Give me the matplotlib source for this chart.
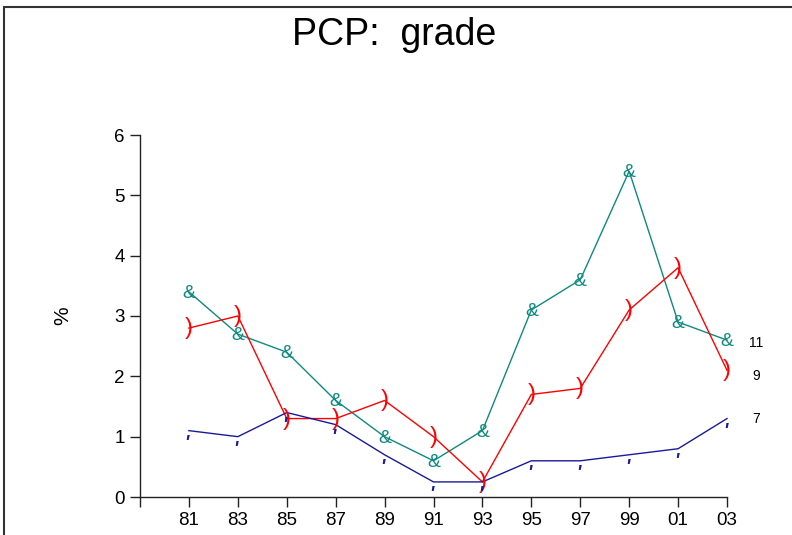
import matplotlib
matplotlib.use("Agg")
import matplotlib.pyplot as plt
from matplotlib.patches import Rectangle

years = ["81", "83", "85", "87", "89", "91", "93", "95", "97", "99", "01", "03"]
grade11 = [3.4, 2.7, 2.4, 1.6, 1.0, 0.6, 1.1, 3.1, 3.6, 5.4, 2.9, 2.6]
grade9 = [2.8, 3.0, 1.3, 1.3, 1.6, 1.0, 0.25, 1.7, 1.8, 3.1, 3.8, 2.1]
grade7 = [1.1, 1.0, 1.4, 1.2, 0.7, 0.25, 0.25, 0.6, 0.6, 0.7, 0.8, 1.3]
series_labels = ["11", "9", "7"]
label_y = [2.55, 2.0, 1.3]

plt.rcParams['font.family'] = ['Liberation Sans', 'DejaVu Sans']

fig = plt.figure(figsize=(7.92, 5.35), dpi=100)
fig.patches.append(Rectangle((4/792, -0.1), 1.2, 1 - 7/535 + 0.1,
                             transform=fig.transFigure, fill=False,
                             edgecolor='#333333', linewidth=1.5))
ax = fig.add_axes([140/792, 1 - 497/535, (727 - 140)/792, (497 - 135)/535])

x = list(range(len(years)))
c11, c9, c7 = '#0e8a80', '#ff0000', '#1a1a99'
ax.plot(x, grade11, color=c11, lw=1.0, clip_on=False)
ax.plot(x, grade9, color=c9, lw=1.0, clip_on=False)
ax.plot(x, grade7, color=c7, lw=1.0, clip_on=False)

for xi, v in zip(x, grade11):
    ax.annotate('&', (xi, v), xytext=(0, -1), textcoords='offset points',
                ha='center', va='center', color=c11, fontsize=14, annotation_clip=False)
for xi, v in zip(x, grade9):
    ax.annotate(')', (xi, v), xytext=(0, 0), textcoords='offset points',
                ha='center', va='center', color=c9, fontsize=17, annotation_clip=False)
for xi, v in zip(x, grade7):
    ax.annotate("'", (xi, v), xytext=(-1.5, -9), textcoords='offset points',
                ha='center', va='center', color=c7, fontsize=13, style='italic',
                fontweight='bold', annotation_clip=False)

for lab, ly in zip(series_labels, label_y):
    ax.text(11.6, ly, lab, ha='center', va='center', fontsize=10, clip_on=False)

ax.set_xlim(-1, 11)
ax.set_ylim(0, 6)
ax.set_xticks([-1] + x)
ax.set_xticklabels([""] + years)
ax.set_yticks(range(7))
ax.spines['top'].set_visible(False)
ax.spines['right'].set_visible(False)
for s in ['left', 'bottom']:
    ax.spines[s].set_linewidth(1.0)
    ax.spines[s].set_color('#222222')
ax.tick_params(axis='both', direction='out', length=7, width=1.0, colors='#222222',
               labelsize=13.5, labelcolor='black')
ax.tick_params(axis='x', pad=4)
ax.tick_params(axis='y', pad=4)
ax.set_ylabel('%', fontsize=15, labelpad=30)

fig.text(394/792, 1 - 35/535, 'PCP:  grade', ha='center', va='center', fontsize=27)

fig.savefig('out.png', dpi=100)
